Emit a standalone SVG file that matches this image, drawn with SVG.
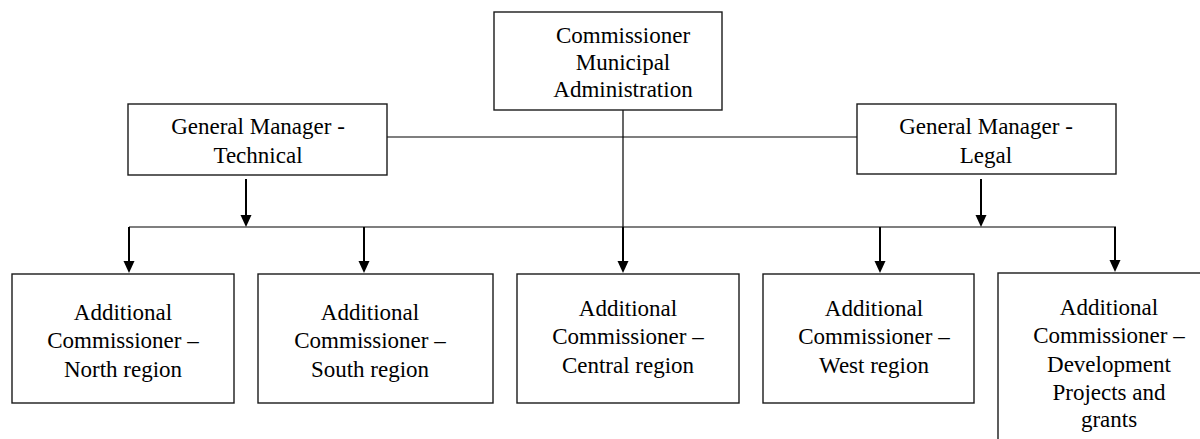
<svg xmlns="http://www.w3.org/2000/svg" width="1200" height="439" viewBox="0 0 1200 439">
  <defs>
    <style>
      .box { fill: #fff; stroke: #1a1a1a; stroke-width: 1.4; }
      .lbl { font-size: 23px; fill: #000; text-anchor: middle; }
      .thin { stroke: #000; stroke-width: 1.2; fill: none; }
      .arr { stroke: #000; stroke-width: 2; fill: none; }
      .head { fill: #000; }
    </style>
  </defs>
  <rect width="1200" height="439" fill="#fff"/>

  <!-- connectors -->
  <g id="connectors">
    <!-- line between the two general managers -->
    <line class="thin" x1="387" y1="137" x2="857" y2="137"/>
    <!-- commissioner down to the distribution bar -->
    <line class="thin" x1="623" y1="110" x2="623" y2="227"/>
    <!-- distribution bar -->
    <line class="thin" x1="129" y1="227" x2="1116" y2="227"/>
    <!-- general manager arrows -->
    <line class="arr" x1="246" y1="179" x2="246" y2="216"/>
    <path class="head" d="M240.5,215 L251.5,215 L246,227 Z"/>
    <line class="arr" x1="981" y1="179" x2="981" y2="216"/>
    <path class="head" d="M975.5,215 L986.5,215 L981,227 Z"/>
    <!-- arrows into the additional commissioners -->
    <line class="arr" x1="129" y1="227" x2="129" y2="262"/>
    <path class="head" d="M123.5,261 L134.5,261 L129,273 Z"/>
    <line class="arr" x1="364" y1="227" x2="364" y2="262"/>
    <path class="head" d="M358.5,261 L369.5,261 L364,273 Z"/>
    <line class="arr" x1="623" y1="227" x2="623" y2="262"/>
    <path class="head" d="M617.5,261 L628.5,261 L623,273 Z"/>
    <line class="arr" x1="880" y1="227" x2="880" y2="262"/>
    <path class="head" d="M874.5,261 L885.5,261 L880,273 Z"/>
    <line class="arr" x1="1115" y1="227" x2="1115" y2="261"/>
    <path class="head" d="M1109.5,260 L1120.5,260 L1115,272 Z"/>
  </g>

  <g id="nodes" font-family="Liberation Serif, DejaVu Serif, serif">
  <g id="commissioner">
    <rect class="box" x="494" y="12" width="228" height="98"/>
    <text class="lbl" x="623" y="43">Commissioner</text>
    <text class="lbl" x="623" y="70">Municipal</text>
    <text class="lbl" x="623" y="97">Administration</text>
  </g>

  <g id="gm-technical">
    <rect class="box" x="128" y="104" width="259" height="71"/>
    <text class="lbl" x="258" y="134">General Manager -</text>
    <text class="lbl" x="258" y="163">Technical</text>
  </g>

  <g id="gm-legal">
    <rect class="box" x="857" y="104" width="259" height="70"/>
    <text class="lbl" x="986" y="134">General Manager -</text>
    <text class="lbl" x="986" y="163">Legal</text>
  </g>

  <g id="ac-north">
    <rect class="box" x="12" y="274" width="222" height="129"/>
    <text class="lbl" x="123" y="320">Additional</text>
    <text class="lbl" x="123" y="348">Commissioner –</text>
    <text class="lbl" x="123" y="377">North region</text>
  </g>

  <g id="ac-south">
    <rect class="box" x="258" y="274" width="235" height="129"/>
    <text class="lbl" x="370" y="320">Additional</text>
    <text class="lbl" x="370" y="348">Commissioner –</text>
    <text class="lbl" x="370" y="377">South region</text>
  </g>

  <g id="ac-central">
    <rect class="box" x="517" y="274" width="222" height="129"/>
    <text class="lbl" x="628" y="316">Additional</text>
    <text class="lbl" x="628" y="344">Commissioner –</text>
    <text class="lbl" x="628" y="373">Central region</text>
  </g>

  <g id="ac-west">
    <rect class="box" x="763" y="274" width="211" height="129"/>
    <text class="lbl" x="874" y="316">Additional</text>
    <text class="lbl" x="874" y="344">Commissioner –</text>
    <text class="lbl" x="874" y="373">West region</text>
  </g>

  <g id="ac-development">
    <rect class="box" x="998" y="273" width="230" height="200"/>
    <text class="lbl" x="1109" y="315">Additional</text>
    <text class="lbl" x="1109" y="343">Commissioner –</text>
    <text class="lbl" x="1109" y="372">Development</text>
    <text class="lbl" x="1109" y="400">Projects and</text>
    <text class="lbl" x="1109" y="427">grants</text>
  </g>
  </g>
</svg>
